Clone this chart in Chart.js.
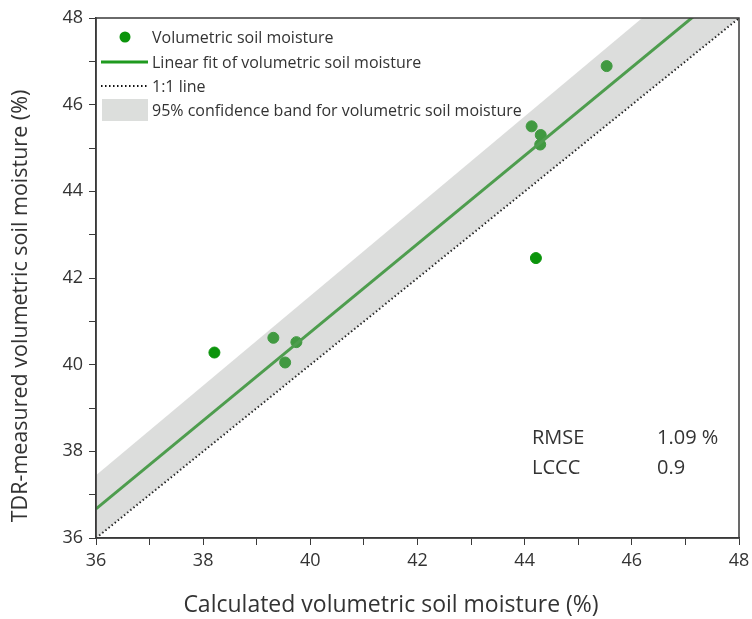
<!DOCTYPE html>
<html>
<head>
<meta charset="utf-8">
<script src="https://cdn.jsdelivr.net/npm/chart.js@4.4.1/dist/chart.umd.min.js"></script>
<style>
  html, body { margin: 0; padding: 0; background: #fff; }
  #wrap { width: 752px; height: 619px; position: relative; }
</style>
</head>
<body>
<div id="wrap"><canvas id="c" width="752" height="619"></canvas></div>
<script>
// ---- data ----
const calcX = [38.21, 39.31, 39.74, 39.53, 44.13, 44.30, 44.29, 44.21, 45.53];
const tdrY  = [40.28, 40.62, 40.52, 40.05, 45.50, 45.30, 45.08, 42.46, 46.89];
const fitX = [36, 48];
const fitY = [36.67, 48.9];
const oneX = [36, 48];
const oneY = [36, 48];
const bandUpperX = [36, 48];
const bandUpperY = [37.45, 49.87];
const legendLabels = ['Volumetric soil moisture', 'Linear fit of volumetric soil moisture', '1:1 line', '95% confidence band for volumetric soil moisture'];
const statNames = ['RMSE', 'LCCC'];
const statValues = ['1.09 %', '0.9'];
const xTitle = 'Calculated volumetric soil moisture (%)';
const yTitle = 'TDR-measured volumetric soil moisture (%)';

const FONT = '"Open Sans"';
const TXT = '#333333';
const GREEN = '#0b940b';
const FITGREEN = '#1f9a1f';

const toXY = (xs, ys) => xs.map((x, i) => ({x: x, y: ys[i]}));

const framePlugin = {
  id: 'frameAndLegend',
  afterDraw(chart) {
    const ctx = chart.ctx;
    const a = chart.chartArea;
    ctx.save();
    ctx.strokeStyle = '#3a3a3a';
    ctx.lineWidth = 1.5;
    ctx.strokeRect(a.left, a.top, a.right - a.left, a.bottom - a.top);
    // legend
    const lx = a.left;
    ctx.font = '16px ' + FONT;
    ctx.textBaseline = 'middle';
    const rows = [37, 62, 86, 110];
    const tx = lx + 56;
    ctx.fillStyle = GREEN;
    ctx.beginPath(); ctx.arc(lx + 29, rows[0], 5.5, 0, Math.PI * 2); ctx.fill();
    ctx.strokeStyle = FITGREEN; ctx.lineWidth = 3;
    ctx.beginPath(); ctx.moveTo(lx + 5, rows[1]); ctx.lineTo(lx + 52, rows[1]); ctx.stroke();
    ctx.strokeStyle = '#111'; ctx.lineWidth = 2; ctx.setLineDash([1.5, 2.5]);
    ctx.beginPath(); ctx.moveTo(lx + 5, rows[2]); ctx.lineTo(lx + 52, rows[2]); ctx.stroke();
    ctx.setLineDash([]);
    ctx.fillStyle = '#dcdedc';
    ctx.fillRect(lx + 6, rows[3] - 11, 46, 22);
    ctx.fillStyle = TXT;
    legendLabels.forEach((t, i) => ctx.fillText(t, tx, rows[i] + 1));
    // stats
    ctx.font = '20px ' + FONT;
    statNames.forEach((t, i) => {
      ctx.fillText(t, 532, 438 + i * 30);
      ctx.fillText(statValues[i], 657, 438 + i * 30);
    });
    // axis titles
    ctx.textAlign = 'center';
    ctx.font = '23px ' + FONT;
    ctx.fillText(xTitle, 391, 605);
    ctx.translate(21, 306);
    ctx.rotate(-Math.PI / 2);
    ctx.font = '21.5px ' + FONT;
    ctx.fillText(yTitle, 0, 0);
    ctx.restore();
  }
};

new Chart(document.getElementById('c'), {
  type: 'scatter',
  data: {
    datasets: [
      {
        label: legendLabels[3],
        type: 'line',
        data: toXY(bandUpperX, bandUpperY),
        borderWidth: 0,
        pointRadius: 0,
        backgroundColor: 'rgba(160,164,160,0.37)',
        fill: {target: 3},
        order: 0
      },
      {
        label: legendLabels[0],
        data: toXY(calcX, tdrY),
        backgroundColor: GREEN,
        borderColor: GREEN,
        pointRadius: 5.5,
        pointHoverRadius: 5.5,
        order: 3
      },
      {
        label: legendLabels[1],
        type: 'line',
        data: toXY(fitX, fitY),
        borderColor: FITGREEN,
        borderWidth: 3,
        pointRadius: 0,
        fill: false,
        order: 2
      },
      {
        label: legendLabels[2],
        type: 'line',
        data: toXY(oneX, oneY),
        borderColor: '#111',
        borderWidth: 2,
        borderDash: [1.5, 2.5],
        pointRadius: 0,
        fill: false,
        order: 1
      }
    ]
  },
  options: {
    responsive: false,
    animation: false,
    devicePixelRatio: 1,
    layout: { padding: { left: 0, right: 13, top: 18, bottom: 0 } },
    plugins: { legend: { display: false }, tooltip: { enabled: false } },
    scales: {
      x: {
        type: 'linear', min: 36, max: 48,
        border: { display: true, color: '#3a3a3a', width: 1.5 },
        grid: { drawOnChartArea: false, drawTicks: true, tickLength: 7, color: '#3a3a3a' },
        ticks: { stepSize: 1, padding: 5, color: TXT, font: { family: FONT, size: 18 },
                 maxRotation: 0, autoSkip: false,
                 callback: v => (v % 2 === 0 ? String(v) : '') },
        title: { display: false },
        afterFit: s => { s.height = 81; s.paddingLeft = 0; s.paddingRight = 0; }
      },
      y: {
        type: 'linear', min: 36, max: 48,
        border: { display: true, color: '#3a3a3a', width: 1.5 },
        grid: { drawOnChartArea: false, drawTicks: true, tickLength: 7, color: '#3a3a3a' },
        ticks: { stepSize: 1, padding: 6, color: TXT, font: { family: FONT, size: 18 },
                 autoSkip: false,
                 callback: v => (v % 2 === 0 ? String(v) : '') },
        title: { display: false },
        afterFit: s => { s.width = 96; s.paddingTop = 0; s.paddingBottom = 0; }
      }
    }
  },
  plugins: [framePlugin]
});
</script>
</body>
</html>
